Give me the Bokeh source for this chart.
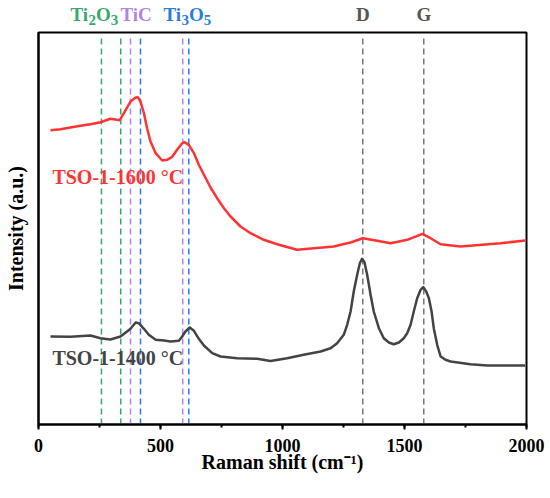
from bokeh.plotting import figure
from bokeh.models import SingleIntervalTicker, Range1d, ColumnDataSource
from bokeh.layouts import column
from bokeh.core.properties import value
from bokeh.embed import file_html
from bokeh.resources import INLINE

# ---- data ----
red_x = [49, 90, 131, 172, 213, 254, 295, 333, 350, 377, 398, 407, 418, 432, 445, 459, 480,
         507, 527, 548, 568, 589, 598, 616, 637, 657, 678, 705, 732, 760, 787, 828, 869, 923,
         985, 1060, 1210, 1279, 1329, 1388, 1443, 1511, 1573, 1607, 1648, 1730, 1893, 1995]
red_y = [294.3, 295.3, 297, 298.7, 300.3, 302.3, 305.7, 304.3, 311.3, 323, 327, 327.3, 323,
         311.3, 296.3, 283, 271.3, 264, 264.7, 267.7, 274.7, 281.3, 282.3, 279.7, 271.3,
         259.7, 249.7, 237, 226.3, 216.3, 208, 198, 191.3, 184.7, 179.7, 174.7, 178, 182,
         186.3, 183.7, 181.3, 184.7, 190.7, 186.3, 180.3, 178, 181.3, 184]

gray_x = [49, 131, 213, 254, 295, 336, 363, 377, 398, 411, 432, 452, 480, 514, 541, 575, 589,
          602, 620, 637, 657, 678, 712, 746, 814, 896, 951, 1019, 1087, 1156, 1197, 1224,
          1251, 1265, 1279, 1292, 1306, 1317, 1326, 1336, 1347, 1361, 1374, 1395, 1415, 1436,
          1456, 1477, 1497, 1511, 1525, 1538, 1552, 1566, 1577, 1589, 1600, 1611, 1620, 1634,
          1648, 1668, 1689, 1770, 1839, 1907, 1995]
gray_y = [88, 87.7, 89, 86.3, 85, 88, 93, 95.7, 102, 101.3, 95.7, 89.7, 84.7, 84, 83, 83.7, 88,
          93, 97, 93.7, 85.7, 79, 71.3, 68, 66.3, 65.7, 63.5, 66.3, 69.7, 73, 76.3, 81.3,
          89.7, 99.7, 113, 133, 149.7, 161.3, 165.7, 162.3, 149.7, 129.7, 113, 96.3, 86.3, 82,
          80.3, 82, 86.3, 91.3, 99.7, 113, 126.3, 134.7, 137.3, 133, 126.3, 113, 96.3, 79.7,
          68, 64.7, 63, 60.3, 59, 59, 59]

ti2o3_lines = [258, 337]
tic_lines = [377, 591]
ti3o5_lines = [418, 616]
dg_lines = [1329, 1579]

series_labels = ["TSO-1-1600 °C", "TSO-1-1400 °C"]

FONT = "Liberation Serif"
GREEN = "#35a96c"
PURPLE = "#b384e6"
BLUE = "#2a7ce3"
DGRAY = "#7a7a7a"
RED = "#ff3333"
DARK = "#444444"

xr = Range1d(0, 2000)

# ---- strip above the frame for the phase labels (no axes at all) ----
top = figure(width=550, height=31, output_backend="svg", toolbar_location=None,
             x_range=xr, y_range=Range1d(0, 31), title=None,
             x_axis_location=None, y_axis_location=None,
             min_border_left=38, min_border_right=24, min_border_top=0, min_border_bottom=0)
top.xgrid.visible = False
top.ygrid.visible = False
top.outline_line_color = None
top.background_fill_color = "white"
top.border_fill_color = "white"

MAINY, SUBY = 17.2, 11.5
# label pieces: (text, anchor x, mid y, x offset px, size, colour)
pieces = [
    ("Ti", 131, MAINY, 0, "19px", GREEN), ("2", 131, SUBY, 18.0, "15px", GREEN),
    ("O", 131, MAINY, 25.5, "19px", GREEN), ("3", 131, SUBY, 40.3, "15px", GREEN),
    ("TiC", 336, MAINY, 0, "19px", PURPLE),
    ("Ti", 512, MAINY, 0, "19px", BLUE), ("3", 512, SUBY, 18.0, "15px", BLUE),
    ("O", 512, MAINY, 25.5, "19px", BLUE), ("5", 512, SUBY, 40.3, "15px", BLUE),
]
tsrc = ColumnDataSource(dict(
    text=[q[0] for q in pieces], x=[q[1] for q in pieces], y=[q[2] for q in pieces],
    xo=[q[3] for q in pieces], size=[q[4] for q in pieces], color=[q[5] for q in pieces]))
top.text(x="x", y="y", text="text", x_offset="xo", text_font_size="size",
         text_color="color", source=tsrc, text_font=value(FONT),
         text_font_style="bold", text_align="left", text_baseline="middle")
top.text(x=dg_lines, y=[MAINY, MAINY], text=["D", "G"], text_color="#555555",
         text_font=value(FONT), text_font_style="bold", text_font_size=value("19px"),
         text_align="center", text_baseline="middle")

# ---- main plot ----
p = figure(width=550, height=467, output_backend="svg", toolbar_location=None,
           x_range=xr, y_range=Range1d(0, 392), title=None,
           min_border_left=38, min_border_right=24, min_border_top=1, min_border_bottom=74)
p.background_fill_color = "white"
p.border_fill_color = "white"
p.xgrid.visible = False
p.ygrid.visible = False
p.outline_line_color = "black"
p.outline_line_width = 2
p.outline_line_alpha = 1

def vlines(xs, color):
    src = ColumnDataSource(dict(x0=xs, x1=xs, y0=[0] * len(xs), y1=[388] * len(xs)))
    p.segment(x0="x0", y0="y0", x1="x1", y1="y1", source=src, line_color=color,
              line_width=1.5, line_dash="6 4")

vlines(ti2o3_lines, GREEN)
vlines(tic_lines, PURPLE)
vlines(ti3o5_lines, BLUE)
vlines(dg_lines, DGRAY)

p.line(red_x, red_y, line_color=RED, line_width=2.5, line_join="round")
p.line(gray_x, gray_y, line_color=DARK, line_width=2.5, line_join="round")

p.text(x=[57, 57], y=[248, 67], text=series_labels, text_color=[RED, DARK],
       text_font=value(FONT), text_font_style="bold", text_font_size=value("20px"),
       text_align="left", text_baseline="middle")

xa = p.xaxis[0]
xa.ticker = SingleIntervalTicker(interval=500, num_minor_ticks=2)
xa.axis_label = "Raman shift (cm⁻¹)"
xa.axis_label_text_font = FONT
xa.axis_label_text_font_style = "bold"
xa.axis_label_text_font_size = "20px"
xa.axis_label_text_color = "black"
xa.axis_label_standoff = -4
xa.major_label_text_font = FONT
xa.major_label_text_font_style = "bold"
xa.major_label_text_font_size = "18px"
xa.major_label_text_color = "black"
xa.major_label_standoff = 9
xa.axis_line_width = 2
xa.axis_line_color = "black"
xa.major_tick_in = 0
xa.major_tick_out = 5
xa.minor_tick_in = 0
xa.minor_tick_out = 3
xa.major_tick_line_width = 2
xa.minor_tick_line_width = 2
xa.major_tick_line_color = "black"
xa.minor_tick_line_color = "black"

ya = p.yaxis[0]
ya.ticker = []
ya.axis_label = "Intensity (a.u.)"
ya.axis_label_text_font = FONT
ya.axis_label_text_font_style = "bold"
ya.axis_label_text_font_size = "20px"
ya.axis_label_text_color = "black"
ya.axis_label_standoff = 12
ya.axis_line_width = 2
ya.axis_line_color = "black"
ya.major_tick_out = 0
ya.minor_tick_out = 0
ya.major_label_text_font_size = "0px"

layout = column(top, p, spacing=0)
open("out.html", "w").write(file_html(layout, INLINE))
